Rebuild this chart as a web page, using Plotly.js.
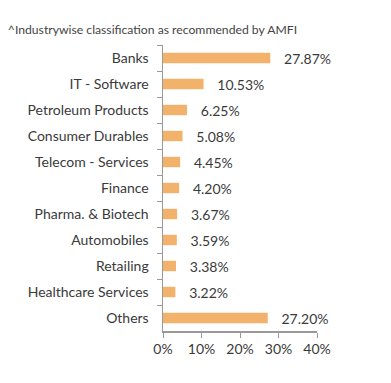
<!DOCTYPE html>
<html><head><meta charset="utf-8">
<script src="https://cdn.plot.ly/plotly-3.0.1.min.js"></script>
<style>body{margin:0;background:#fff}#c{width:391px;height:383px}</style>
</head><body><div id="c"></div>
<script>
const categories = ["Banks","IT - Software","Petroleum Products","Consumer Durables","Telecom - Services","Finance","Pharma. & Biotech","Automobiles","Retailing","Healthcare Services","Others"];
const values = [27.87,10.53,6.25,5.08,4.45,4.20,3.67,3.59,3.38,3.22,27.20];
const tickVals = [0,10,20,30,40];
const tickText = ["0%","10%","20%","30%","40%"];
const titleText = "^Industrywise classification as recommended by AMFI";

const font = "Lato, 'Open Sans', sans-serif";
const trace = {
  type: "bar", orientation: "h",
  x: values, y: categories,
  marker: {color: "#F2B26B"},
  width: 0.4,
  text: values.map(v => "   " + v.toFixed(2) + "%"),
  textposition: "outside",
  constraintext: "none",
  textfont: {family: font, size: 14, color: "#3a3a3a"},
  cliponaxis: false,
  hoverinfo: "none"
};
const layout = {
  width: 391, height: 383,
  margin: {l: 163, r: 74, t: 45, b: 52},
  paper_bgcolor: "#fff", plot_bgcolor: "#fff",
  showlegend: false,
  font: {family: font, size: 13, color: "#3a3a3a"},
  title: {text: titleText, x: 0.02, xanchor: "left", y: 0.922, yanchor: "middle",
          font: {family: font, size: 12.2, color: "#444"}},
  xaxis: {range: [0, 40], tickvals: tickVals, ticktext: tickText, showgrid: false, zeroline: false,
          showline: true, linecolor: "#999", linewidth: 1.5, ticks: "outside", ticklen: 5, tickcolor: "#999",
          tickfont: {family: font, size: 14, color: "#3a3a3a"}, fixedrange: true},
  yaxis: {autorange: "reversed", showgrid: false, zeroline: false, showline: true, linecolor: "#999", linewidth: 1.5,
          ticks: "outside", tickson: "boundaries", ticklen: 5, tickcolor: "#999", ticklabelstandoff: 10,
          tickfont: {family: font, size: 14, color: "#3a3a3a"}, fixedrange: true}
};
Plotly.newPlot("c", [trace], layout, {displayModeBar: false, staticPlot: true});
</script></body></html>
